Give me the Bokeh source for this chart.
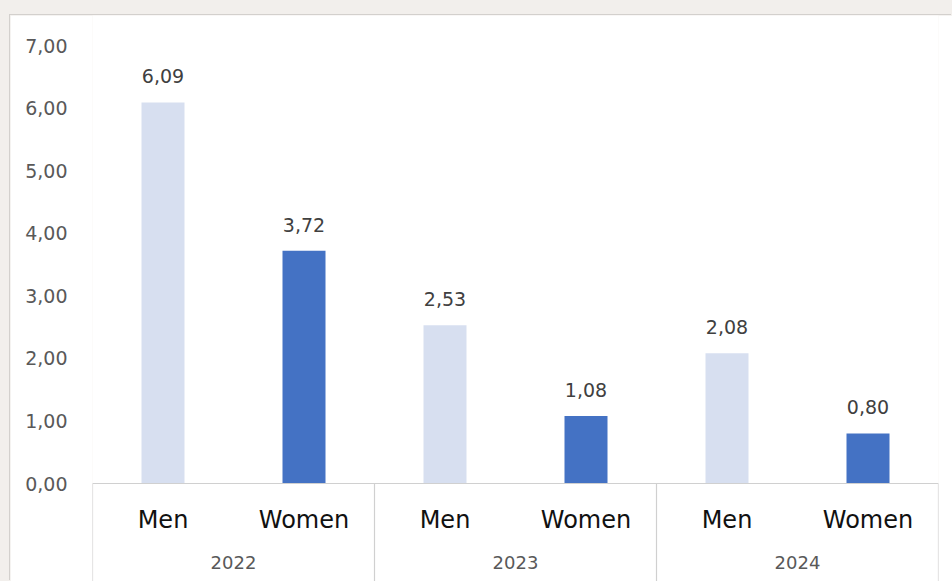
from bokeh.plotting import figure
from bokeh.models import FactorRange, Range1d, FixedTicker, CustomJSTickFormatter, ColumnDataSource
from bokeh.layouts import column
from bokeh.embed import file_html
from bokeh.resources import INLINE
from bokeh.core.properties import value

# Data
years = ["2022", "2023", "2024"]
genders = ["Men", "Women"]
men_values = [6.09, 2.53, 2.08]
women_values = [3.72, 1.08, 0.80]
y_ticks = [0, 1, 2, 3, 4, 5, 6, 7]

MEN_COLOR = "#d7dff0"
WOMEN_COLOR = "#4472c4"
FONT = "DejaVu Sans"

factors = [(y, g) for y in years for g in genders]
vals = []
colors = []
for m, w in zip(men_values, women_values):
    vals += [m, w]
    colors += [MEN_COLOR, WOMEN_COLOR]
labels = [f"{v:.2f}".replace(".", ",") for v in vals]

src = ColumnDataSource(dict(x=factors, top=vals, color=colors, label=labels,
                            cat=[g for _, g in factors]))

p = figure(
    width=942, height=566,
    x_range=FactorRange(*factors, group_padding=0, range_padding=0),
    y_range=Range1d(-1.566, 7.48),
    output_backend="svg", toolbar_location=None,
    min_border_left=82, min_border_right=14, min_border_top=0, min_border_bottom=0,
    background_fill_color="white", border_fill_color="white",
    outline_line_color=None,
)
p.margin = (15, 0, 0, 10)
p.styles = {"box-shadow": "-1px -1px 0px #d3d0cd"}

p.xaxis.visible = False
p.xgrid.visible = False
p.ygrid.visible = False

# y axis with comma decimals
p.yaxis.ticker = FixedTicker(ticks=y_ticks)
p.yaxis.formatter = CustomJSTickFormatter(code="return tick.toFixed(2).replace('.', ',');")
p.yaxis.axis_line_color = None
p.yaxis.major_tick_line_color = None
p.yaxis.minor_tick_line_color = None
p.yaxis.major_label_standoff = 19
p.yaxis.major_label_text_font = FONT
p.yaxis.major_label_text_font_size = "19px"
p.yaxis.major_label_text_color = "#595959"

# bars
p.vbar(x="x", top="top", bottom=0, width=0.305, color="color", line_color=None, source=src)

# value labels above bars
p.text(x="x", y="top", text="label", source=src, text_align="center", text_baseline="middle",
       y_offset=-26, text_font=value(FONT), text_font_size="19px", text_color="#404040")

# category axis box: baseline and group separators
n_groups = len(years)
n_sub = len(genders)
bounds = [i * n_sub for i in range(n_groups + 1)]
p.segment(x0=[bounds[0]], x1=[bounds[-1]], y0=[0], y1=[0], line_color="#d0d0d0", line_width=1.2)
p.segment(x0=bounds, x1=bounds, y0=[0] * len(bounds), y1=[-1.6] * len(bounds),
          line_color="#d0d0d0", line_width=1.2)

# sub-category and group labels
p.text(x="x", y=-0.58, text="cat", source=src, text_align="center", text_baseline="middle",
       text_font=value(FONT), text_font_size="24px", text_color="#111111")
p.text(x=years, y=[-1.27] * len(years), text=years, text_align="center", text_baseline="middle",
       text_font=value(FONT), text_font_size="18px", text_color="#595959")

layout = column(p, width=952, height=581, styles={"background-color": "#f2efec"})

open("out.html", "w").write(file_html(layout, INLINE))
